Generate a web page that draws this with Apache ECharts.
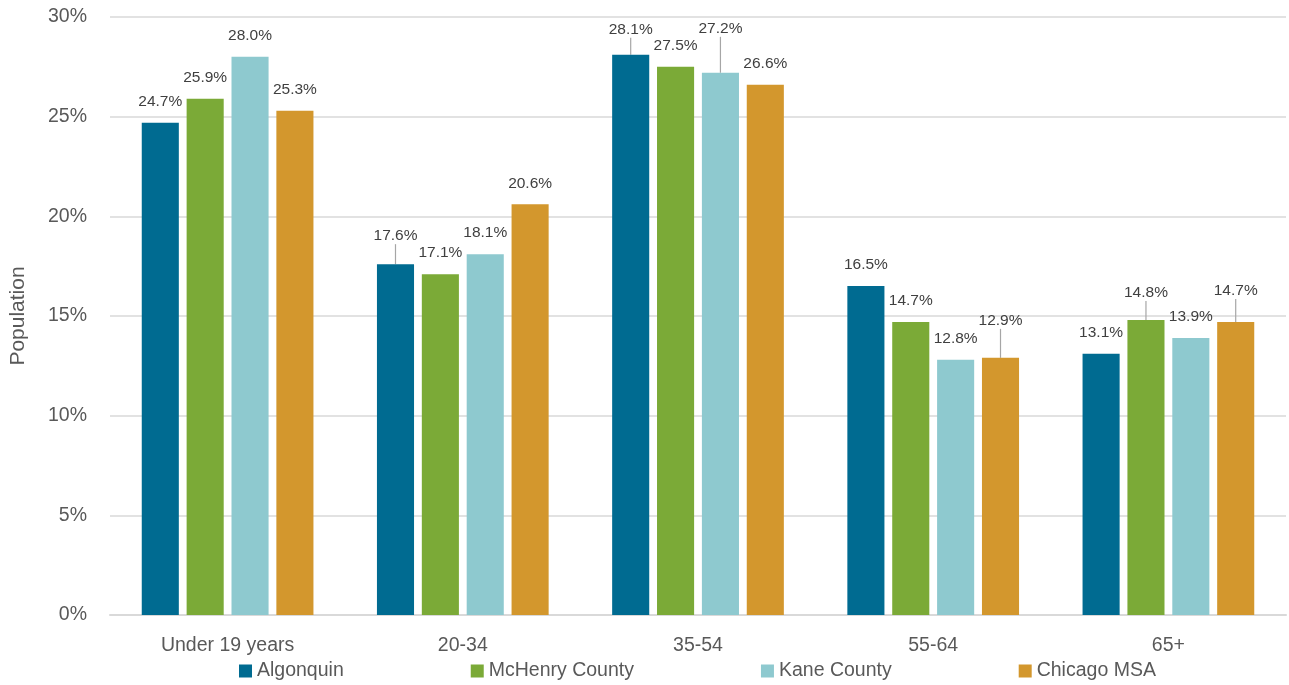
<!DOCTYPE html>
<html>
<head>
<meta charset="utf-8">
<title>Population by age</title>
<script src="https://cdn.jsdelivr.net/npm/echarts@6/dist/echarts.min.js"></script>
<style>
  html, body { margin: 0; padding: 0; background: #fff; }
  #chart { width: 1289px; height: 685px; }
</style>
</head>
<body>
<div id="chart"></div>
<script>
// 年龄段
var categories = ['Under 19 years', '20-34', '35-54', '55-64', '65+'];
var seriesNames = ['Algonquin', 'McHenry County', 'Kane County', 'Chicago MSA'];

// 各地区人口占比 (%)
var algonquin = [24.7, 17.6, 28.1, 16.5, 13.1];
var mchenry   = [25.9, 17.1, 27.5, 14.7, 14.8];
var kane      = [28.0, 18.1, 27.2, 12.8, 13.9];
var chicago   = [25.3, 20.6, 26.6, 12.9, 14.7];

// 坐标轴刻度
var yTicks = [0, 5, 10, 15, 20, 25, 30];

var colors = ['#006B91', '#7BAA37', '#8EC9CF', '#D3972D'];
// 标签上移像素(带引线)
var labelRaise = [
	[0, 7, 4, 0, 0],
	[0, 0, 0, 0, 6],
	[0, 0, 23, 0, 0],
	[0, 0, 0, 16, 10]
];

var sans = '"Liberation Sans", Arial, sans-serif';

function makeSeries(idx, values){
	return {
		name: seriesNames[idx],
		type: 'bar',
		barGap: '21%',
		barCategoryGap: '27%',
		itemStyle: { color: colors[idx] },
		label: {
			show: true,
			position: 'top',
			distance: 13,
			fontFamily: sans,
			fontSize: 15.5,
			color: '#404040',
			formatter: function(p){ return p.value.toFixed(1) + '%'; }
		},
		labelLine: { show: false, lineStyle: { color: '#A6A6A6', width: 1.2 } },
		labelLayout: function(p){
			return { dy: -labelRaise[p.seriesIndex][p.dataIndex] };
		},
		data: values.map(function(v, i){
			return { value: v, labelLine: { show: labelRaise[idx][i] > 0 } };
		})
	};
}

var chart = echarts.init(document.getElementById('chart'));
var option = {
	animation: false,
	color: colors,
	grid: { left: 105, right: 3, top: 17, bottom: 70 },
	legend: {
		data: seriesNames,
		left: 239,
		top: 661,
		padding: 0,
		icon: 'rect',
		itemWidth: 13,
		itemHeight: 13,
		itemGap: 127,
		textStyle: { fontFamily: sans, fontSize: 19.5, color: '#595959' }
	},
	xAxis: {
		type: 'category',
		data: categories,
		axisTick: { show: false },
		axisLine: { lineStyle: { color: '#D9D9D9', width: 2 } },
		axisLabel: { fontFamily: sans, fontSize: 19.5, color: '#595959', margin: 21 }
	},
	yAxis: {
		type: 'value',
		min: yTicks[0],
		max: yTicks[yTicks.length - 1],
		interval: yTicks[1] - yTicks[0],
		name: 'Population',
		nameLocation: 'middle',
		nameGap: 81,
		nameTextStyle: { fontFamily: sans, fontSize: 21, color: '#595959' },
		axisLabel: { formatter: '{value}%', fontFamily: sans, fontSize: 19.5, color: '#595959', margin: 23 },
		splitLine: { lineStyle: { color: '#D9D9D9', width: 1.5 } }
	},
	series: [
		makeSeries(0, algonquin),
		makeSeries(1, mchenry),
		makeSeries(2, kane),
		makeSeries(3, chicago)
	]
};
chart.setOption(option);
</script>
</body>
</html>
